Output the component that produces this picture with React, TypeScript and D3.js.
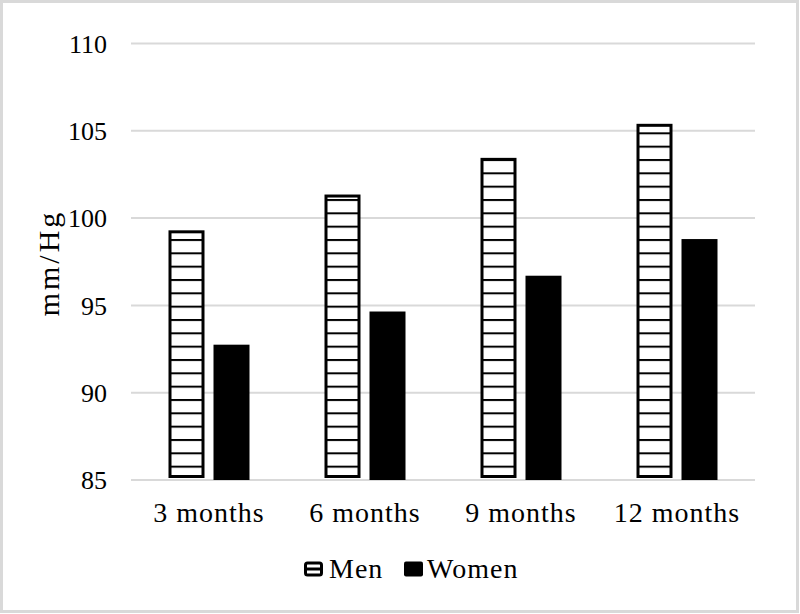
import React from 'react'
import * as d3 from 'd3'

const categories = ['3 months', '6 months', '9 months', '12 months']
const series = ['Men', 'Women']
const men = [99.3, 101.35, 103.45, 105.4]
const women = [92.75, 94.65, 96.7, 98.8]
const yTicks = [85, 90, 95, 100, 105, 110]

const W = 800
const H = 614
const font = '"Liberation Serif", "DejaVu Serif", serif'

export default function App() {
  const x = d3.scaleBand<string>().domain(categories).range([131, 755])
  const y = d3.scaleLinear().domain([85, 110]).range([480, 43.5])
  const y0 = y(85)

  const inner = (c: string) => {
    const mid = (x(c) as number) + x.bandwidth() / 2
    return d3.scaleBand<string>().domain(series).range([mid - 40.5, mid + 40.5]).paddingInner(0.2)
  }

  return (
    <svg
      width={W}
      height={H}
      style={{position: 'absolute', left: 0, top: 0, background: '#fff'}}
      fontFamily={font}
    >
      <defs>
        <pattern id="hatch" patternUnits="userSpaceOnUse" width={10} height={40 / 3} y={-1}>
          <rect width={10} height={40 / 3} fill="#fff" />
          <rect width={10} height={2} fill="#000" />
        </pattern>
      </defs>
      <rect x={1.5} y={1.5} width={796} height={610} fill="#fff" stroke="#d9d9d9" strokeWidth={3} />

      {/* gridlines + ticks */}
      {yTicks.map(t => (
        <g key={t}>
          <line x1={131} x2={755} y1={y(t)} y2={y(t)} stroke="#d9d9d9" strokeWidth={2} />
          <text x={107} y={y(t)} dy="0.35em" textAnchor="end" fontSize={26} fill="#000">
            {t}
          </text>
        </g>
      ))}

      {/* bars */}
      {categories.map((c, i) => {
        const sb = inner(c)
        const mx = sb('Men') as number
        const wx = sb('Women') as number
        const bw = sb.bandwidth()
        const mt = y(men[i])
        return (
          <g key={c}>
            <rect
              x={mx + 1.5}
              y={mt + 1.5}
              width={bw - 3}
              height={y0 - 2 - 1.5 - (mt + 1.5)}
              fill="url(#hatch)"
              stroke="#000"
              strokeWidth={3}
            />
            <rect x={wx} y={y(women[i])} width={bw} height={y0 - y(women[i])} fill="#000" />
            <text
              x={(x(c) as number) + x.bandwidth() / 2}
              y={522}
              textAnchor="middle"
              fontSize={28}
              letterSpacing={1}
              fill="#000"
            >
              {c}
            </text>
          </g>
        )
      })}

      {/* y axis title */}
      <text
        transform="translate(59,263) rotate(-90)"
        textAnchor="middle"
        fontSize={30}
        letterSpacing={3}
        fill="#000"
      >
        mm/Hg
      </text>

      {/* legend */}
      <g>
        <rect x={305.5} y={563} width={16} height={12} rx={2} fill="#fff" stroke="#000" strokeWidth={3} />
        <line x1={305.5} x2={321.5} y1={569} y2={569} stroke="#000" strokeWidth={3} />
        <text x={329} y={578} fontSize={28} letterSpacing={1} fill="#000">
          {series[0]}
        </text>
        <rect x={404} y={561.5} width={19} height={15} rx={2} fill="#000" />
        <text x={427} y={578} fontSize={28} letterSpacing={1} fill="#000">
          {series[1]}
        </text>
      </g>
    </svg>
  )
}
